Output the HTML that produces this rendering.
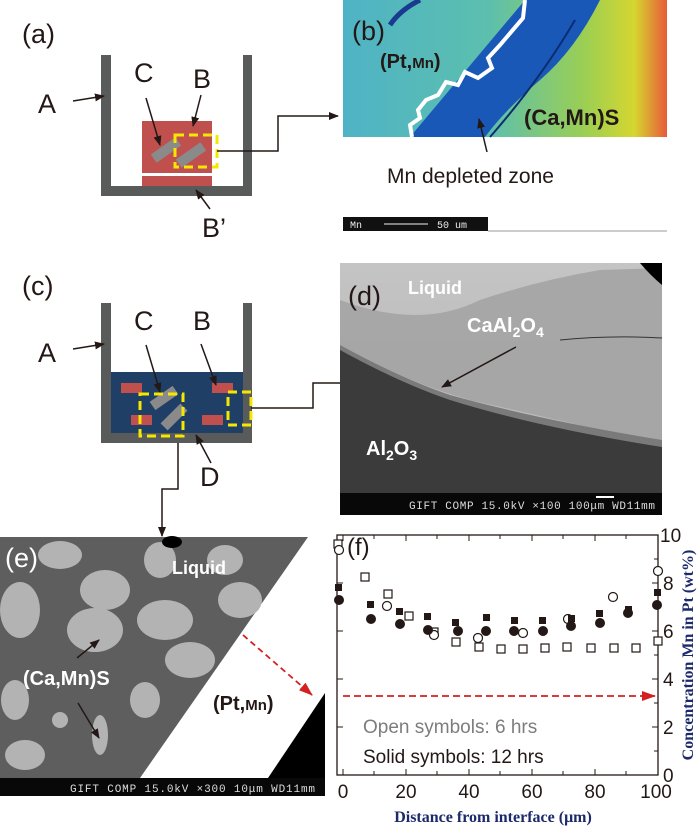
<!DOCTYPE html>
<html><head><meta charset="utf-8"><style>
html,body{margin:0;padding:0;background:#fff;}
svg{display:block;font-family:"Liberation Sans",sans-serif;}
</style></head><body>
<svg width="700" height="827" viewBox="0 0 700 827" xmlns="http://www.w3.org/2000/svg">
<defs>
<marker id="ah" markerWidth="10" markerHeight="8" refX="9" refY="4" orient="auto" markerUnits="userSpaceOnUse"><path d="M0,0 L10,4 L0,8 z" fill="#231815"/></marker>
<marker id="ahr" markerWidth="14" markerHeight="10" refX="13" refY="5" orient="auto" markerUnits="userSpaceOnUse"><path d="M0,0 L14,5 L0,10 z" fill="#d42020"/></marker>
<linearGradient id="bg" x1="0" x2="1" y1="0" y2="0">
<stop offset="0" stop-color="#4fb3c6"/><stop offset="0.45" stop-color="#5cbfae"/><stop offset="0.75" stop-color="#9ccf52"/><stop offset="0.9" stop-color="#d6d630"/><stop offset="1" stop-color="#e85a3a"/></linearGradient>
<linearGradient id="dg" x1="0" x2="0" y1="0" y2="1"><stop offset="0" stop-color="#c4c4c4"/><stop offset="1" stop-color="#b4b4b4"/></linearGradient>
</defs>

<!-- (a) -->
<text x="22" y="43" font-size="27" fill="#231815">(a)</text>
<path d="M101,55 V196 H252 V55 H243 V186 H111 V55 Z" fill="#595a5a"/>
<rect x="142" y="121" width="70" height="52" fill="#c0504d"/>
<rect x="142" y="176" width="70" height="10" fill="#c0504d"/>
<rect x="151" y="145" width="30" height="10" fill="#8a8a8a" transform="rotate(-35 166 150)"/>
<rect x="176" y="150" width="30" height="10" fill="#8a8a8a" transform="rotate(-35 191 155)"/>
<rect x="175" y="135" width="42" height="32" fill="none" stroke="#f5e800" stroke-width="3" stroke-dasharray="9,5"/>
<text x="38" y="113" font-size="27" fill="#231815">A</text>
<line x1="73" y1="101" x2="104" y2="96" stroke="#231815" stroke-width="1.5" marker-end="url(#ah)"/>
<text x="134" y="82" font-size="27" fill="#231815">C</text>
<line x1="146" y1="98" x2="160" y2="145" stroke="#231815" stroke-width="1.5" marker-end="url(#ah)"/>
<text x="193" y="88" font-size="27" fill="#231815">B</text>
<line x1="201" y1="95" x2="193" y2="126" stroke="#231815" stroke-width="1.5" marker-end="url(#ah)"/>
<text x="202" y="237" font-size="27" fill="#231815">B’</text>
<line x1="210" y1="209" x2="196" y2="190" stroke="#231815" stroke-width="1.5" marker-end="url(#ah)"/>
<polyline points="217,151 278,151 278,116 338,116" fill="none" stroke="#231815" stroke-width="1.5" marker-end="url(#ah)"/>

<!-- (b) -->
<rect x="343" y="0" width="324" height="137" fill="url(#bg)"/>
<path d="M525,0 L600,0 Q575,50 540,80 Q505,110 485,137 L410,137 Z" fill="#1a58b8"/>
<path d="M575,20 Q540,80 490,137" stroke="#0b2c70" stroke-width="2" fill="none"/>
<path d="M420,0 Q400,10 390,25" stroke="#1a3a90" stroke-width="5" fill="none"/>
<path d="M525,0 L523,18 L500,45 L488,58 L492,68 L478,78 L465,72 L458,85 L446,82 L438,95 L426,100 L418,110 L420,118 L410,125 L412,137" fill="none" stroke="#fff" stroke-width="4"/>
<text x="352" y="40" font-size="27" fill="#231815">(b)</text>
<text x="380" y="68" font-size="20" font-weight="bold" fill="#231815">(Pt,<tspan font-size="15">Mn</tspan>)</text>
<text x="524" y="125" font-size="22" font-weight="bold" fill="#231815">(Ca,Mn)S</text>
<line x1="487" y1="152" x2="479" y2="119" stroke="#231815" stroke-width="1.5" marker-end="url(#ah)"/>
<text x="387" y="183" font-size="21" fill="#231815">Mn depleted zone</text>
<rect x="343" y="217" width="145" height="14" fill="#111"/>
<line x1="488" y1="231" x2="667" y2="231" stroke="#999" stroke-width="1"/>
<text x="350" y="228" font-size="10" fill="#eee" font-family="Liberation Mono,monospace">Mn</text>
<line x1="384" y1="224" x2="428" y2="224" stroke="#eee" stroke-width="1"/>
<text x="437" y="228" font-size="10" fill="#eee" font-family="Liberation Mono,monospace">50 um</text>

<!-- (c) -->
<text x="22" y="295" font-size="27" fill="#231815">(c)</text>
<path d="M101,303 V443 H252 V303 H243 V433 H111 V303 Z" fill="#595a5a"/>
<rect x="111" y="372" width="132" height="61" fill="#1f3f66"/>
<rect x="121" y="383" width="21" height="10" fill="#c0504d"/>
<rect x="212" y="383" width="21" height="10" fill="#c0504d"/>
<rect x="131" y="415" width="21" height="10" fill="#c0504d"/>
<rect x="202" y="415" width="21" height="10" fill="#c0504d"/>
<rect x="150" y="393" width="28" height="10" fill="#8a8a8a" transform="rotate(-35 164 398)"/>
<rect x="160" y="412" width="28" height="10" fill="#8a8a8a" transform="rotate(-45 174 417)"/>
<rect x="140" y="394" width="43" height="42" fill="none" stroke="#f5e800" stroke-width="3" stroke-dasharray="9,5"/>
<rect x="228" y="392" width="23" height="33" fill="none" stroke="#f5e800" stroke-width="3" stroke-dasharray="9,5"/>
<text x="38" y="362" font-size="27" fill="#231815">A</text>
<line x1="73" y1="349" x2="104" y2="344" stroke="#231815" stroke-width="1.5" marker-end="url(#ah)"/>
<text x="134" y="330" font-size="27" fill="#231815">C</text>
<line x1="146" y1="345" x2="160" y2="392" stroke="#231815" stroke-width="1.5" marker-end="url(#ah)"/>
<text x="193" y="330" font-size="27" fill="#231815">B</text>
<line x1="201" y1="344" x2="216" y2="385" stroke="#231815" stroke-width="1.5" marker-end="url(#ah)"/>
<text x="200" y="486" font-size="27" fill="#231815">D</text>
<line x1="211" y1="463" x2="196" y2="435" stroke="#231815" stroke-width="1.5" marker-end="url(#ah)"/>
<polyline points="251,408 313,408 313,383 340,383" fill="none" stroke="#231815" stroke-width="1.5"/>
<polyline points="178,443 178,489 162,489 162,536" fill="none" stroke="#231815" stroke-width="1.5" marker-end="url(#ah)"/>

<!-- (d) -->
<rect x="340" y="263" width="322" height="230" fill="url(#dg)"/>
<path d="M340,300 Q420,330 480,300 Q540,280 600,270 L662,268 L662,445 Q560,420 470,400 Q400,380 340,345 Z" fill="#a2a2a2" opacity="0.85"/>
<path d="M340,345 Q400,378 450,395 Q540,420 662,440 L662,450 Q540,432 450,402 Q400,388 340,355 Z" fill="#7a7a7a"/>
<path d="M340,350 Q400,383 450,400 Q540,428 662,447 L662,493 L340,493 Z" fill="#3b3b3b"/>
<path d="M640,263 L662,263 L662,285 Q650,275 640,263 Z" fill="#000"/>
<path d="M560,340 Q610,335 662,338" stroke="#333" stroke-width="1" fill="none"/>
<rect x="340" y="493" width="322" height="22" fill="#080808"/>
<text x="348" y="305" font-size="27" fill="#231815">(d)</text>
<text x="408" y="294" font-size="18" font-weight="bold" fill="#fff">Liquid</text>
<text x="467" y="332" font-size="20" font-weight="bold" fill="#fff">CaAl<tspan font-size="14" dy="5">2</tspan><tspan dy="-5">O</tspan><tspan font-size="14" dy="5">4</tspan></text>
<line x1="516" y1="347" x2="442" y2="387" stroke="#231815" stroke-width="1.5" marker-end="url(#ah)"/>
<text x="366" y="455" font-size="20" font-weight="bold" fill="#fff">Al<tspan font-size="14" dy="5">2</tspan><tspan dy="-5">O</tspan><tspan font-size="14" dy="5">3</tspan></text>
<text x="409" y="509" font-size="11" fill="#ddd" font-family="Liberation Mono,monospace" textLength="246">GIFT COMP 15.0kV   ×100  100μm WD11mm</text>
<line x1="596" y1="497" x2="614" y2="497" stroke="#fff" stroke-width="2"/>

<!-- (e) -->
<path d="M0,537 L308,537 L140,778 L0,778 Z" fill="#5e5e5e"/>
<g fill="#b3b3b3">
<ellipse cx="20" cy="610" rx="20" ry="28"/><ellipse cx="105" cy="590" rx="25" ry="20"/><ellipse cx="95" cy="630" rx="28" ry="22"/>
<ellipse cx="160" cy="560" rx="16" ry="18"/><ellipse cx="165" cy="620" rx="28" ry="20"/><ellipse cx="240" cy="600" rx="22" ry="18"/>
<ellipse cx="190" cy="660" rx="25" ry="18"/><ellipse cx="60" cy="555" rx="22" ry="14"/><ellipse cx="225" cy="560" rx="18" ry="15"/>
<ellipse cx="15" cy="700" rx="14" ry="20"/><ellipse cx="100" cy="735" rx="8" ry="20"/><ellipse cx="25" cy="755" rx="20" ry="15"/>
<ellipse cx="145" cy="700" rx="15" ry="18"/><ellipse cx="60" cy="720" rx="8" ry="8"/>
</g>
<ellipse cx="172" cy="542" rx="10" ry="6" fill="#000"/>
<path d="M325,693 L325,778 L268,778 Z" fill="#000"/>
<rect x="0" y="778" width="325" height="18" fill="#080808"/>
<text x="70" y="792" font-size="11" fill="#ddd" font-family="Liberation Mono,monospace" textLength="245">GIFT COMP  15.0kV    ×300   10μm WD11mm</text>
<text x="5" y="567" font-size="27" fill="#fff">(e)</text>
<text x="172" y="574" font-size="18" font-weight="bold" fill="#fff">Liquid</text>
<text x="23" y="685" font-size="20" font-weight="bold" fill="#fff">(Ca,Mn)S</text>
<line x1="77" y1="658" x2="99" y2="640" stroke="#231815" stroke-width="1.5" marker-end="url(#ah)"/>
<line x1="78" y1="703" x2="99" y2="738" stroke="#231815" stroke-width="1.5" marker-end="url(#ah)"/>
<text x="213" y="710" font-size="20" font-weight="bold" fill="#231815">(Pt,<tspan font-size="15">Mn</tspan>)</text>
<line x1="243" y1="635" x2="312" y2="695" stroke="#d42020" stroke-width="1.8" stroke-dasharray="6,4" marker-end="url(#ahr)"/>

<!-- (f) -->
<rect x="337" y="535" width="321" height="240" fill="none" stroke="#231815" stroke-width="1.3"/>
<g stroke="#231815" stroke-width="1">
<line x1="343" y1="775" x2="343" y2="769"/><line x1="406" y1="775" x2="406" y2="769"/><line x1="469" y1="775" x2="469" y2="769"/><line x1="532" y1="775" x2="532" y2="769"/><line x1="595" y1="775" x2="595" y2="769"/>
<line x1="374" y1="775" x2="374" y2="771"/><line x1="437" y1="775" x2="437" y2="771"/><line x1="500" y1="775" x2="500" y2="771"/><line x1="563" y1="775" x2="563" y2="771"/><line x1="626" y1="775" x2="626" y2="771"/>
<line x1="343" y1="535" x2="343" y2="541"/><line x1="406" y1="535" x2="406" y2="541"/><line x1="469" y1="535" x2="469" y2="541"/><line x1="532" y1="535" x2="532" y2="541"/><line x1="595" y1="535" x2="595" y2="541"/>
<line x1="374" y1="535" x2="374" y2="539"/><line x1="437" y1="535" x2="437" y2="539"/><line x1="500" y1="535" x2="500" y2="539"/><line x1="563" y1="535" x2="563" y2="539"/><line x1="626" y1="535" x2="626" y2="539"/>
<line x1="658" y1="583" x2="652" y2="583"/><line x1="658" y1="631" x2="652" y2="631"/><line x1="658" y1="679" x2="652" y2="679"/><line x1="658" y1="727" x2="652" y2="727"/>
<line x1="658" y1="559" x2="654" y2="559"/><line x1="658" y1="607" x2="654" y2="607"/><line x1="658" y1="655" x2="654" y2="655"/><line x1="658" y1="703" x2="654" y2="703"/><line x1="658" y1="751" x2="654" y2="751"/>
<line x1="337" y1="583" x2="343" y2="583"/><line x1="337" y1="631" x2="343" y2="631"/><line x1="337" y1="679" x2="343" y2="679"/><line x1="337" y1="727" x2="343" y2="727"/>
</g>
<g font-size="19" fill="#231815">
<text x="660" y="542">10</text><text x="663" y="590">8</text><text x="663" y="638">6</text><text x="663" y="686">4</text><text x="663" y="734">2</text><text x="663" y="782">0</text>
<text x="343" y="798" text-anchor="middle">0</text><text x="406" y="798" text-anchor="middle">20</text><text x="469" y="798" text-anchor="middle">40</text><text x="532" y="798" text-anchor="middle">60</text><text x="595" y="798" text-anchor="middle">80</text><text x="656" y="798" text-anchor="middle">100</text>
</g>
<text x="347" y="555" font-size="24" fill="#231815">(f)</text>
<text x="493" y="822" font-size="16" font-weight="bold" fill="#1b2a6b" text-anchor="middle" font-family="Liberation Serif,serif">Distance from interface (μm)</text>
<text transform="translate(693,655) rotate(-90)" font-size="16" font-weight="bold" fill="#1b2a6b" text-anchor="middle" font-family="Liberation Serif,serif">Concentration Mn in Pt (wt%)</text>
<line x1="343" y1="696" x2="655" y2="696" stroke="#d42020" stroke-width="1.8" stroke-dasharray="7,4" marker-end="url(#ahr)"/>
<text x="363" y="733" font-size="19" fill="#7d7d7d">Open symbols: 6 hrs</text>
<text x="363" y="763" font-size="19" fill="#231815">Solid symbols: 12 hrs</text>
<!-- data -->
<g fill="#fff" stroke="#231815" stroke-width="1.2">
<rect x="334" y="540" width="8" height="8"/><rect x="361" y="573" width="8" height="8"/><rect x="384" y="590" width="8" height="8"/><rect x="405" y="612" width="8" height="8"/><rect x="430" y="628" width="8" height="8"/>
<rect x="452" y="638" width="8" height="8"/><rect x="475" y="643" width="8" height="8"/><rect x="497" y="645" width="8" height="8"/><rect x="519" y="645" width="8" height="8"/><rect x="541" y="644" width="8" height="8"/>
<rect x="563" y="643" width="8" height="8"/><rect x="587" y="644" width="8" height="8"/><rect x="610" y="644" width="8" height="8"/><rect x="632" y="644" width="8" height="8"/><rect x="654" y="637" width="8" height="8"/>
<circle cx="339" cy="550" r="4.5"/><circle cx="387" cy="606" r="4.5"/><circle cx="434" cy="635" r="4.5"/><circle cx="478" cy="638" r="4.5"/><circle cx="523" cy="633" r="4.5"/><circle cx="568" cy="619" r="4.5"/><circle cx="613" cy="597" r="4.5"/><circle cx="658" cy="571" r="4.5"/>
</g>
<g fill="#231815">
<rect x="335" y="584" width="7" height="7"/><rect x="367" y="601" width="7" height="7"/><rect x="396" y="608" width="7" height="7"/><rect x="424" y="613" width="7" height="7"/><rect x="452" y="619" width="7" height="7"/>
<rect x="483" y="614" width="7" height="7"/><rect x="511" y="617" width="7" height="7"/><rect x="539" y="617" width="7" height="7"/><rect x="568" y="615" width="7" height="7"/><rect x="596" y="610" width="7" height="7"/>
<rect x="625" y="606" width="7" height="7"/><rect x="654" y="589" width="7" height="7"/>
<circle cx="339" cy="600" r="5"/><circle cx="371" cy="619" r="5"/><circle cx="400" cy="624" r="5"/><circle cx="428" cy="630" r="5"/><circle cx="458" cy="631" r="5"/><circle cx="486" cy="631" r="5"/>
<circle cx="514" cy="631" r="5"/><circle cx="543" cy="631" r="5"/><circle cx="571" cy="626" r="5"/><circle cx="600" cy="623" r="5"/><circle cx="628" cy="613" r="5"/><circle cx="657" cy="605" r="5"/>
</g>
</svg>
</body></html>
